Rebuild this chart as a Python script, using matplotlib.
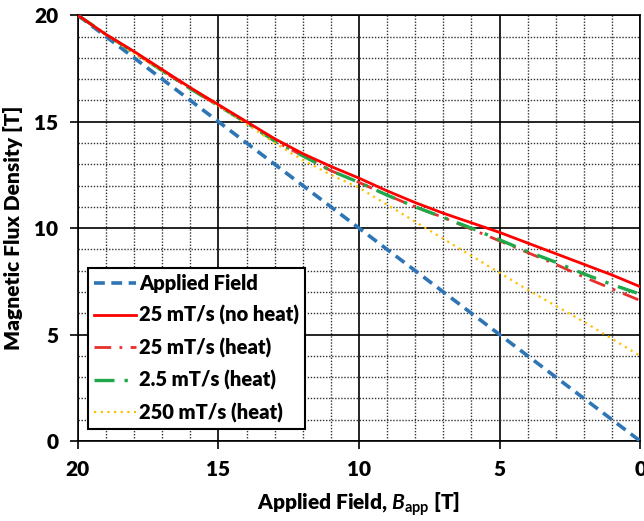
import matplotlib
matplotlib.use("Agg")
import matplotlib.pyplot as plt
from matplotlib.ticker import MultipleLocator

plt.rcParams['font.family'] = ['Lato', 'DejaVu Sans']
plt.rcParams['font.weight'] = 'heavy'
plt.rcParams['mathtext.fontset'] = 'custom'
plt.rcParams['mathtext.bfit'] = 'Lato:italic:bold'
plt.rcParams['mathtext.bf'] = 'Lato:bold'

x_applied = [20, 0]
y_applied = [20, 0]

x_vals = [20, 19, 18, 17, 16, 15, 14, 13, 12, 11, 10, 9, 8, 7, 6, 5, 4, 3, 2, 1, 0]
red_noheat = [20, 19.1, 18.3, 17.45, 16.6, 15.8, 15.0, 14.2, 13.5, 12.9, 12.35, 11.75, 11.2, 10.7, 10.25, 9.8, 9.3, 8.8, 8.3, 7.8, 7.25]
red_heat = [20, 19.1, 18.25, 17.4, 16.55, 15.75, 14.95, 14.1, 13.4, 12.7, 12.15, 11.55, 11.0, 10.5, 9.95, 9.4, 8.85, 8.3, 7.7, 7.15, 6.6]
green_heat = [20, 19.1, 18.25, 17.4, 16.55, 15.75, 14.95, 14.1, 13.4, 12.7, 12.15, 11.55, 11.0, 10.5, 10.0, 9.45, 8.9, 8.4, 7.85, 7.35, 6.9]
yellow_heat = [20, 19.1, 18.2, 17.4, 16.6, 15.75, 14.9, 14.0, 13.2, 12.5, 11.9, 11.1, 10.3, 9.5, 8.7, 7.9, 7.1, 6.35, 5.6, 4.8, 4.0]

labels = ["Applied Field", "25 mT/s (no heat)", "25 mT/s (heat)", "2.5 mT/s (heat)", "250 mT/s (heat)"]

fig = plt.figure(figsize=(6.44, 5.21), dpi=100)
ax = fig.add_axes([0.121, 0.1536, 0.873, 0.817])

ax.plot(x_applied, y_applied, color='#2E75B6', lw=2.6, ls=(0, (3, 1.8)), label=labels[0], zorder=3)
ax.plot(x_vals, red_noheat, color='#FF0000', lw=2.0, ls='-', label=labels[1], zorder=4)
ax.plot(x_vals, red_heat, color='#E8302A', lw=2.0, ls=(0, (6, 3, 1, 3)), label=labels[2], zorder=3)
ax.plot(x_vals, green_heat, color='#1FA84A', lw=2.4, ls=(0, (6, 3, 1, 3)), label=labels[3], zorder=3)
ax.plot(x_vals, yellow_heat, color='#FFC000', lw=1.6, ls=(0, (1, 2)), label=labels[4], zorder=3)

ax.set_xlim(20, 0)
ax.set_ylim(0, 20)
ax.xaxis.set_major_locator(MultipleLocator(5))
ax.yaxis.set_major_locator(MultipleLocator(5))
ax.xaxis.set_minor_locator(MultipleLocator(1))
ax.yaxis.set_minor_locator(MultipleLocator(1))
ax.grid(which='major', color='black', lw=1.2)
ax.grid(which='minor', color='#333333', lw=1.0, ls=(0, (1, 1.2)))
ax.set_axisbelow(True)
ax.tick_params(which='major', direction='out', length=6, width=1.2, labelsize=15, pad=8)
ax.tick_params(which='minor', length=0)
for s in ax.spines.values():
    s.set_linewidth(1.2)
for lab in ax.get_xticklabels() + ax.get_yticklabels():
    lab.set_fontweight('heavy')

ax.set_xlabel(r"Applied Field, $\mathbfit{B}_{\mathbf{app}}$ [T]", fontsize=15, fontweight='heavy', labelpad=8)
ax.set_ylabel("Magnetic Flux Density [T]", fontsize=15, fontweight='heavy', labelpad=8)

leg = ax.legend(loc='lower left', bbox_to_anchor=(0.0, 0.005), fontsize=14.5, frameon=True,
                fancybox=False, edgecolor='black', framealpha=1, handlelength=2.1,
                handletextpad=0.15, labelspacing=0.62, borderpad=0.3)
leg.get_frame().set_linewidth(1.5)
for t in leg.get_texts():
    t.set_fontweight('heavy')

fig.savefig("out.png", dpi=100)
